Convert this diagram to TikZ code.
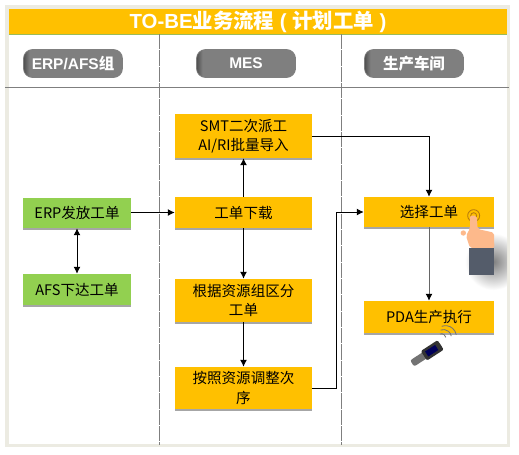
\documentclass[tikz,border=0pt]{standalone}
\usepackage{xcolor}
\usepackage{fontspec}
\setmainfont{Liberation Sans}
\newfontfamily\cjk{Noto Sans CJK SC}
\usepackage{tikz}
\usetikzlibrary{arrows.meta,positioning,shadows}
\definecolor{framebeige}{HTML}{ECEBE2}
\definecolor{titlegold}{HTML}{FFC000}
\definecolor{titleline}{HTML}{9BBB59}
\definecolor{lanegray}{HTML}{7F7F7F}
\definecolor{headedge}{HTML}{4F4F4F}
\definecolor{flowgreen}{HTML}{92D050}
\definecolor{handskin}{HTML}{FDB98B}
\definecolor{sleeveblue}{HTML}{545C6A}
\definecolor{ringbrown}{HTML}{B5790F}
\pgfdeclarehorizontalshading{headshade}{100bp}{color(0bp)=(headedge); color(25bp)=(headedge); color(28bp)=(lanegray); color(100bp)=(lanegray)}

\begin{document}
\begin{tikzpicture}[
    >=Latex,
    flowtext/.style={font=\fontsize{12.4}{16.5}\selectfont\cjk, align=center, inner sep=0pt},
    box/.style={flowtext, fill=titlegold, text width=4.11cm, drop shadow={shadow xshift=0.3pt, shadow yshift=-1.3pt, fill=black!35, opacity=1}},
    smallbox/.style={box, text width=3.9cm},
    greenbox/.style={box, fill=flowgreen, text width=3.24cm},
    header/.style={draw=lanegray, line width=0.6pt, shading=headshade, rounded corners=0.27cm, minimum width=2.97cm, minimum height=0.84cm, inner sep=0pt, text=white, font=\fontsize{13.2}{16}\selectfont\bfseries},
    lane/.style={lanegray, line width=0.8pt},
    arrow/.style={-{Latex[length=2.1mm,width=2.1mm]}, line width=0.85pt}
]
\useasboundingbox (0,0) rectangle (15.57,-13.62);

% frame and title
\fill[framebeige] (0.15,-0.15) rectangle (15.3,-13.41);
\fill[white] (0.27,-0.27) rectangle (15.21,-13.32);
\begin{scope}
\clip (0.27,-0.27) rectangle (15.21,-13.32);
\shade[inner color=black!50, outer color=white] (14.8,-7.85) circle (0.85);
\end{scope}
\node[fill=titlegold, minimum width=14.94cm, minimum height=0.75cm, inner sep=0pt, text=white, font=\fontsize{17.4}{20}\selectfont\bfseries] (title) at (7.74,-0.645) {TO-BE{\cjk 业务流程} ( {\cjk 计划工单} )\hspace{0.12cm}};
\draw[titleline, line width=0.7pt] (title.south west) -- (title.south east);

% lanes
\draw[lane, dash pattern=on 0.46cm off 0.03cm] (4.78,-1.02) -- (4.78,-13.35);
\draw[lane, dash pattern=on 0.46cm off 0.03cm] (10.25,-1.02) -- (10.25,-13.35);
\draw[lane] (0.15,-2.61) -- (15.27,-2.61);

\node[header] (erpafs) at (2.19,-1.905) {ERP/AFS{\cjk 组}};
\node[header] (mes) at (7.38,-1.905) {MES};
\node[header] (shop) at (12.42,-1.905) {\cjk 生产车间};

% flow boxes
\node[box, minimum height=1.32cm] (smt) at (7.305,-4.08) {SMT二次派工\\AI/RI批量导入};
\node[box, minimum height=0.93cm] (download) at (7.305,-6.375) {工单下载};
\node[box, minimum height=1.29cm] (divide) at (7.305,-9.015) {根据资源组区分\\工单};
\node[box, minimum height=1.26cm] (adjust) at (7.305,-11.64) {按照资源调整次\\序};
\node[greenbox, minimum height=0.9cm] (release) at (2.31,-6.39) {ERP发放工单};
\node[greenbox, minimum height=0.93cm] (issue) at (2.31,-8.685) {AFS下达工单};
\node[smallbox, minimum height=0.9cm] (select) at (12.87,-6.36) {选择工单};
\node[smallbox, minimum height=0.96cm] (pda) at (12.87,-9.51) {PDA生产执行};

% connectors
\coordinate (bend) at (10.08,-11.64);
\draw[arrow] (release.east |- download.west) -- (download.west);
\draw[arrow] (download.north) -- (smt.south);
\draw[arrow] (download.south) -- (divide.north);
\draw[arrow] (divide.south) -- (adjust.north);
\draw[arrow, {Latex[length=2.1mm,width=2.1mm]}-{Latex[length=2.1mm,width=2.1mm]}] (release.south) -- (issue.north);
\draw[arrow] (smt.east) -| (select.north);
\draw[arrow] (adjust.east) -- (bend) |- (select.west);
\draw[arrow, black!60, -{Latex[length=2.1mm,width=2.1mm,black]}] (select.south) -- (pda.north);

% hand
\draw[ringbrown, line width=0.7pt, fill=titlegold] (14.21,-6.47) circle (0.18);
\draw[ringbrown, line width=0.7pt] (14.21,-6.47) circle (0.09);
\fill[handskin, rounded corners=0.06cm] (14.1,-6.47) -- (14.3,-6.47) -- (14.33,-6.87) -- (14.82,-6.98) -- (14.83,-7.44) -- (14.1,-7.44) -- (13.98,-7.08) -- (14.1,-6.85) -- cycle;
\fill[handskin] (13.9,-6.99) circle (0.08);
\fill[sleeveblue] (14.07,-7.44) rectangle (14.82,-8.25);

% handheld scanner
\begin{scope}[shift={(12.8,-10.62)}, rotate=33]
\fill[black!55, rounded corners=0.06cm] (-0.52,-0.11) rectangle (0.5,0.11);
\fill[black!80, rounded corners=0.04cm] (-0.1,-0.17) rectangle (0.5,0.17);
\fill[blue!35!black] (0,-0.09) rectangle (0.36,0.09);
\end{scope}
\draw[black!55, line width=0.7pt] (13.2,-10.02) arc (110:10:0.13);
\draw[black!55, line width=0.7pt] (13.22,-9.9) arc (110:10:0.24);
\draw[black!55, line width=0.7pt] (13.25,-9.79) arc (110:10:0.33);
\end{tikzpicture}
\end{document}
